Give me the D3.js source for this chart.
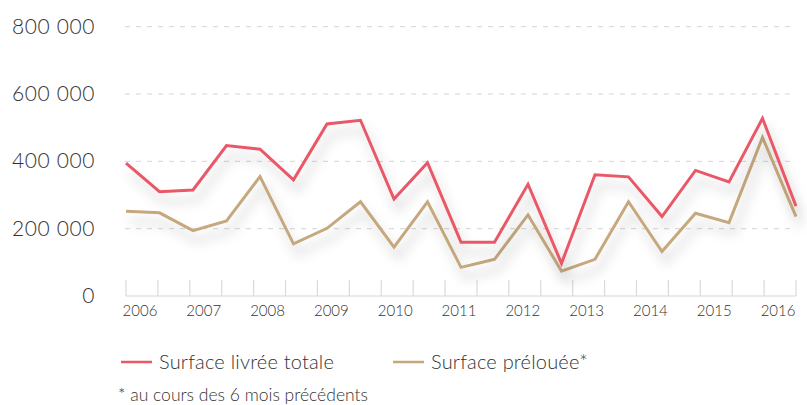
<!DOCTYPE html>
<html>
<head>
<meta charset="utf-8">
<script src="https://cdn.jsdelivr.net/npm/d3@7"></script>
<style>
  body { margin: 0; background: #fff; }
  text { font-family: Lato, "Open Sans", sans-serif; font-weight: 300; fill: #333; }
</style>
</head>
<body>
<svg width="807" height="405"></svg>
<script>
// semesters, two per year from 2006 to mid 2016
const years = ["2006","2007","2008","2009","2010","2011","2012","2013","2014","2015","2016"];
const semesters = d3.range(21);

// Surface livrée totale
const livree = [395000, 310000, 315000, 447000, 436000, 345000, 511000, 522000, 288000, 396000,
                160000, 160000, 332000, 97000, 360000, 354000, 236000, 373000, 339000, 528000, 267000];
// Surface prélouée*
const prelouee = [252000, 247000, 194000, 223000, 355000, 155000, 201000, 280000, 145000, 280000,
                  85000, 109000, 241000, 74000, 109000, 280000, 132000, 246000, 218000, 471000, 236000];

const yTicks = [0, 200000, 400000, 600000, 800000];

const red = "#ea5868";
const tan = "#c6a87e";

const svg = d3.select("svg");

const left = 126, right = 796;
const y = d3.scaleLinear().domain([0, 800000]).range([296, 26.7]);
const xPoint = d3.scalePoint().domain(semesters).range([left, right]);
// tick bands: 21 bands between 22 ticks
const xBand = d3.scaleBand().domain(semesters).range([left, right]);

// drop shadow under the lines
const defs = svg.append("defs");
const f = defs.append("filter").attr("id", "shadow")
  .attr("x", "-10%").attr("y", "-30%").attr("width", "120%").attr("height", "170%");
f.append("feDropShadow")
  .attr("dx", 4).attr("dy", 10).attr("stdDeviation", 6)
  .attr("flood-color", "#000").attr("flood-opacity", 0.22);

// gridlines
svg.append("g").selectAll("line")
  .data(yTicks.filter(d => d > 0))
  .enter().append("line")
  .attr("x1", 125).attr("x2", 794)
  .attr("y1", d => y(d)).attr("y2", d => y(d))
  .attr("stroke", "#d4d4d4")
  .attr("stroke-width", 1)
  .attr("stroke-dasharray", "5,6");

// y labels
svg.append("g").selectAll("text")
  .data(yTicks)
  .enter().append("text")
  .attr("x", 95)
  .attr("y", d => y(d) + 7)
  .attr("text-anchor", "end")
  .style("font-size", "21px")
  .style("letter-spacing", "0.6px")
  .text(d => d3.format(",")(d).replace(/,/g, " "));

// x axis baseline and ticks
const ax = svg.append("g");
ax.append("line")
  .attr("x1", left).attr("x2", right)
  .attr("y1", 296).attr("y2", 296)
  .attr("stroke", "#d6d6d6").attr("stroke-width", 1.2);
const tickPos = semesters.map(d => xBand(d)).concat([right]);
ax.selectAll(".tick")
  .data(tickPos)
  .enter().append("line")
  .attr("class", "tick")
  .attr("x1", d => d).attr("x2", d => d)
  .attr("y1", 280).attr("y2", 296)
  .attr("stroke", "#dadada").attr("stroke-width", 1.2);

ax.selectAll(".yr")
  .data(years)
  .enter().append("text")
  .attr("class", "yr")
  .attr("x", (d, i) => xBand(i * 2) + xBand.bandwidth() / 2 - 2)
  .attr("y", 316)
  .attr("text-anchor", "middle")
  .style("font-size", "15px")
  .text(d => d);

// lines
const line = d3.line()
  .x((d, i) => xPoint(i))
  .y(d => y(d));

svg.append("path")
  .datum(prelouee)
  .attr("d", line)
  .attr("fill", "none")
  .attr("stroke", tan)
  .attr("stroke-width", 3)
  .attr("stroke-linejoin", "miter")
  .attr("filter", "url(#shadow)");

svg.append("path")
  .datum(livree)
  .attr("d", line)
  .attr("fill", "none")
  .attr("stroke", red)
  .attr("stroke-width", 3)
  .attr("stroke-linejoin", "miter")
  .attr("filter", "url(#shadow)");

// legend
const legend = [
  { label: "Surface livrée totale", color: red, x: 121 },
  { label: "Surface prélouée*", color: tan, x: 393 }
];
const lg = svg.append("g").selectAll("g")
  .data(legend)
  .enter().append("g")
  .attr("transform", d => `translate(${d.x},362)`);
lg.append("line")
  .attr("x1", 0).attr("x2", 31)
  .attr("stroke", d => d.color).attr("stroke-width", 2.5);
lg.append("text")
  .attr("x", 38).attr("y", 7)
  .style("font-size", "20px")
  .style("letter-spacing", "0.2px")
  .text(d => d.label);

svg.append("text")
  .attr("x", 118).attr("y", 401)
  .style("font-size", "17.5px")
  .text("* au cours des 6 mois précédents");
</script>
</body>
</html>
